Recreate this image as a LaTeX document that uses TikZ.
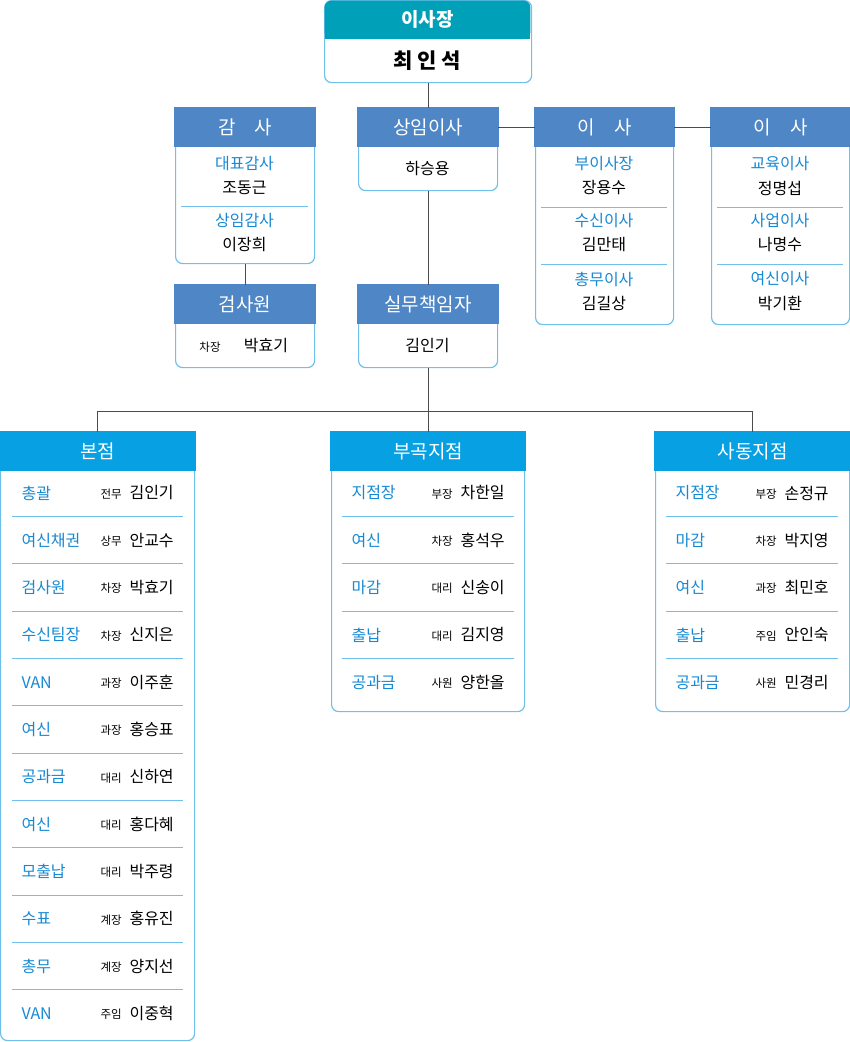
\documentclass[tikz,border=0pt]{standalone}
\usepackage{fontspec}
\setmainfont{Noto Sans CJK KR}
\usetikzlibrary{calc, positioning}
\definecolor{topteal}{HTML}{00A0B9}
\definecolor{steel}{HTML}{4F86C6}
\definecolor{brblue}{HTML}{07A0E3}
\definecolor{rimblue}{HTML}{6FC0EA}
\definecolor{lblblue}{HTML}{1789D4}

\newcommand\orgbox[7]{%
  \node[box, minimum width=#4pt, minimum height=#5pt, anchor=north west] (#1) at (#2,#3) {};
  \fill[#6] ($(#1.north west)+(-0.6pt,0.6pt)$) rectangle ($(#1.north east)+(0.6pt,-39pt)$);
  \coordinate (#1h) at ($(#1.north)+(0,-19.5pt)$);
  \node[headtext] at (#1h) {#7};}

\begin{document}
\begin{tikzpicture}[x=1pt, y=-1pt,
    box/.style={draw=rimblue, line width=1.2pt, rounded corners=7pt, fill=white, inner sep=0pt},
    headtext/.style={text=white, font=\fontsize{19}{19}\selectfont},
    member/.style={font=\fontsize{16}{16}\selectfont},
    role/.style={member, text=lblblue},
    rank/.style={font=\fontsize{11.5}{12}\selectfont},
    sep/.style={draw=rimblue, line width=0.9pt},
    link/.style={draw=black!70, line width=1pt}]
\useasboundingbox (0,0) rectangle (850,1042);

% chairman
\node[box, minimum width=207pt, minimum height=82pt, anchor=north west] (ceo) at (324,0) {};
\fill[topteal, rounded corners=7pt] (324.6,0.6) rectangle (530.4,39);
\fill[topteal] (324.6,30) rectangle (530.4,39);
\node[headtext, font=\bfseries\fontsize{19}{19}\selectfont] at (427.5,19.5) {이사장};
\node[font=\bfseries\fontsize{21}{21}\selectfont] (ceoname) at (427.5,61) {최 인 석};

% board
\orgbox{gamsa}{175}{108}{139}{155}{steel}{감\hspace{1em}사}
\orgbox{sangim}{358}{108}{139}{82}{steel}{상임이사}
\orgbox{isaa}{535}{108}{138}{216}{steel}{이\hspace{1em}사}
\orgbox{isab}{711}{108}{138}{216}{steel}{이\hspace{1em}사}
\orgbox{geomsa}{175}{285}{139}{82}{steel}{검사원}
\orgbox{silmu}{358}{285}{139}{82}{steel}{실무책임자}

\node[role] at (244.5,164) {대표감사};
\node[member] at (244.5,188) {조동근};
\draw[sep] (181,206) -- (308,206);
\node[role] at (244.5,221) {상임감사};
\node[member] at (244.5,245) {이장희};

\node[member] at (427.5,169) {하승용};

\node[role] at (604,164) {부이사장};
\node[member] at (604,188) {장용수};
\draw[sep] (541,207) -- (667,207);
\node[role] at (604,221) {수신이사};
\node[member] at (604,245) {김만태};
\draw[sep] (541,264) -- (667,264);
\node[role] at (604,279) {총무이사};
\node[member] at (604,303) {김길상};

\node[role] at (780,164) {교육이사};
\node[member] at (780,188) {정명섭};
\draw[sep] (717,207) -- (843,207);
\node[role] at (780,221) {사업이사};
\node[member] at (780,245) {나명수};
\draw[sep] (717,264) -- (843,264);
\node[role] at (780,279) {여신이사};
\node[member] at (780,303) {박기환};

\node[rank] at (210,347) {차장};
\node[member] at (266,346) {박효기};
\node[member] at (427.5,346) {김인기};

% branches
\orgbox{bonjeom}{0}{432}{194}{608}{brblue}{본점}
\orgbox{bugok}{331}{432}{193}{279}{brblue}{부곡지점}
\orgbox{sadong}{655}{432}{194}{279}{brblue}{사동지점}

\foreach \lbl/\rk/\nm [count=\i from 0] in {총괄/전무/김인기, 여신채권/상무/안교수, 검사원/차장/박효기,
    수신팀장/차장/신지은, VAN/과장/이주훈, 여신/과장/홍승표, 공과금/대리/신하연, 여신/대리/홍다혜,
    모출납/대리/박주령, 수표/계장/홍유진, 총무/계장/양지선, VAN/주임/이중혁}{
  \node[role, anchor=west] at (18,493+47.3*\i) {\lbl};
  \node[rank, anchor=west] at (97,494+47.3*\i) {\rk};
  \node[member, anchor=west] at (126,493+47.3*\i) {\nm};
  \ifnum\i<11 \draw[sep] (12,516.6+47.3*\i) -- (183,516.6+47.3*\i); \fi
}
\foreach \lbl/\rk/\nm [count=\i from 0] in {지점장/부장/차한일, 여신/차장/홍석우, 마감/대리/신송이,
    출납/대리/김지영, 공과금/사원/양한올}{
  \node[role, anchor=west] at (348,493+47.3*\i) {\lbl};
  \node[rank, anchor=west] at (428,494+47.3*\i) {\rk};
  \node[member, anchor=west] at (457,493+47.3*\i) {\nm};
  \ifnum\i<4 \draw[sep] (342,516.6+47.3*\i) -- (514,516.6+47.3*\i); \fi
}
\foreach \lbl/\rk/\nm [count=\i from 0] in {지점장/부장/손정규, 마감/차장/박지영, 여신/과장/최민호,
    출납/주임/안인숙, 공과금/사원/민경리}{
  \node[role, anchor=west] at (672,493+47.3*\i) {\lbl};
  \node[rank, anchor=west] at (752,494+47.3*\i) {\rk};
  \node[member, anchor=west] at (781,493+47.3*\i) {\nm};
  \ifnum\i<4 \draw[sep] (666,516.6+47.3*\i) -- (838,516.6+47.3*\i); \fi
}

% connectors
\draw[link] (ceo.south) -- (sangim.north);
\draw[link] (sangim.east |- sangimh) -- (isaa.west |- isaah);
\draw[link] (isaa.east |- isaah) -- (isab.west |- isabh);
\draw[link] (gamsa.south) -- (geomsa.north);
\draw[link] (sangim.south) -- (silmu.north);
\draw[link] (silmu.south) -- ++(0,43) coordinate (split);
\draw[link] (bonjeom.north) |- (split) -| (sadong.north);
\draw[link] (split) -- (bugok.north);
\end{tikzpicture}
\end{document}
